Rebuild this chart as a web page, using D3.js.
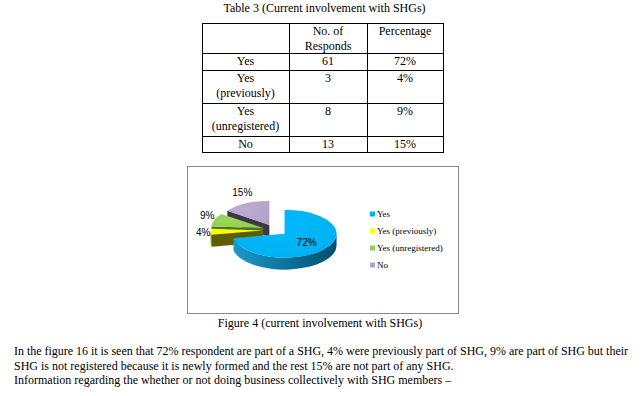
<!DOCTYPE html>
<html>
<head>
<meta charset="utf-8">
<script src="https://cdn.jsdelivr.net/npm/d3@7"></script>
<style>
  body { margin: 0; background: #fff; }
  svg { display: block; }
  .serif { font-family: "Liberation Serif", "Times New Roman", serif; fill: #000; }
  .sans { font-family: "Liberation Sans", Arial, sans-serif; fill: #000; }
</style>
</head>
<body>
<div id="chart"></div>
<script>
// table + chart data
const categories = ['Yes', 'Yes (previously)', 'Yes (unregistered)', 'No'];
const rowLabels = [['Yes'], ['Yes', '(previously)'], ['Yes', '(unregistered)'], ['No']];
const responds = [61, 3, 8, 13];
const percentages = [72, 4, 9, 15];
const headers = [[''], ['No. of', 'Responds'], ['Percentage']];
const topColors = ['#00b0f0', '#ffff00', '#92d050', '#b3a2c7'];
const sideColors = [['#1c9acb', '#004e70'], ['#7d7d00', '#5e5e00'], ['#5f8f2e', '#4a7322'], ['#55495f', '#3e3546']];

const tableCaption = 'Table 3 (Current involvement with SHGs)';
const figureCaption = 'Figure 4 (current involvement with SHGs)';
const paragraph = [
    'In the figure 16 it is seen that 72% respondent are part of a SHG, 4% were previously part of SHG, 9% are part of SHG but their',
    'SHG is not registered because it is newly formed and the rest 15% are not part of any SHG.',
    'Information regarding the whether or not doing business collectively with SHG members \u2013'
];

const W = 642, H = 396;
const svg = d3.select('#chart').append('svg')
    .attr('width', W)
    .attr('height', H);

svg.append('rect').attr('width', W).attr('height', H).attr('fill', '#fff');

/* ---------- table ---------- */
const colEdges = [202, 289, 367, 443];
// header is two lines, rows are one or two lines
const lineH = 16.5;
const rowHeights = [30].concat(rowLabels.map(r => r.length * lineH));
const rowEdges = [23];
rowHeights.forEach(h => rowEdges.push(rowEdges[rowEdges.length - 1] + h));

svg.append('text')
    .attr('class', 'serif')
    .attr('x', (colEdges[0] + colEdges[3]) / 2 + 2)
    .attr('y', 12)
    .attr('text-anchor', 'middle')
    .style('font-size', '12px')
    .text(tableCaption);

const grid = svg.append('g').attr('stroke', '#000').attr('stroke-width', 1);
rowEdges.forEach(y => {
    grid.append('line')
        .attr('x1', colEdges[0]).attr('x2', colEdges[3])
        .attr('y1', Math.round(y) + 0.5).attr('y2', Math.round(y) + 0.5);
});
colEdges.forEach(x => {
    grid.append('line')
        .attr('x1', x + 0.5).attr('x2', x + 0.5)
        .attr('y1', rowEdges[0]).attr('y2', Math.round(rowEdges[rowEdges.length - 1]) + 1);
});

const colCenter = i => (colEdges[i] + colEdges[i + 1]) / 2;

function cellText(lines, col, rowTop) {
    lines.forEach((t, j) => {
        svg.append('text')
            .attr('class', 'serif')
            .attr('x', colCenter(col))
            .attr('y', rowTop + 11.5 + j * 15)
            .attr('text-anchor', 'middle')
            .style('font-size', '12px')
            .text(t);
    });
}

headers.forEach((h, c) => cellText(h, c, rowEdges[0]));
rowLabels.forEach((r, i) => {
    const top = Math.round(rowEdges[i + 1]);
    cellText(r, 0, top);
    cellText([String(responds[i])], 1, top);
    cellText([percentages[i] + '%'], 2, top);
});

/* ---------- chart frame ---------- */
const frame = { x: 187, y: 166, w: 271, h: 147 };
svg.append('rect')
    .attr('x', frame.x + 0.5).attr('y', frame.y + 0.5)
    .attr('width', frame.w).attr('height', frame.h)
    .attr('fill', '#fff')
    .attr('stroke', '#8a8a8a');

/* ---------- 3D pie ---------- */
const cx = 275, cy = 230, rx = 52, ry = 24, depth = 12, explode = 12.4;
const k = ry / rx;

const pie = d3.pie().sort(null).startAngle(0).endAngle(2 * Math.PI);
const arcs = pie(percentages).map((d, i) => {
    const mid = (d.startAngle + d.endAngle) / 2;
    return {
        i: i,
        a0: d.startAngle,
        a1: d.endAngle,
        mid: mid,
        value: d.value,
        ox: cx + explode * Math.sin(mid),
        oy: cy - explode * k * Math.cos(mid)
    };
});

const pt = (s, a, dy = 0) => [s.ox + rx * Math.sin(a), s.oy - ry * Math.cos(a) + dy];

const defs = svg.append('defs');
arcs.forEach(s => {
    const g = defs.append('linearGradient')
        .attr('id', 'side' + s.i)
        .attr('gradientUnits', 'userSpaceOnUse')
        .attr('x1', s.ox - rx).attr('x2', s.ox + rx)
        .attr('y1', 0).attr('y2', 0);
    g.append('stop').attr('offset', '0%').attr('stop-color', sideColors[s.i][0]);
    g.append('stop').attr('offset', '100%').attr('stop-color', sideColors[s.i][1]);
    const t = defs.append('radialGradient')
        .attr('id', 'top' + s.i)
        .attr('cx', '40%').attr('cy', '35%').attr('r', '75%');
    t.append('stop').attr('offset', '0%').attr('stop-color', d3.color(topColors[s.i]).brighter(0.15));
    t.append('stop').attr('offset', '100%').attr('stop-color', topColors[s.i]);
});

// back slices first
const order = arcs.slice().sort((a, b) => a.oy - b.oy);
const pieG = svg.append('g');

order.forEach(s => {
    const g = pieG.append('g');
    const c = [s.ox, s.oy];
    // radial walls facing the viewer
    [[s.a0, Math.sin(s.a0) < -1e-6], [s.a1, Math.sin(s.a1) > 1e-6]].forEach(([a, vis]) => {
        if (!vis) return;
        const p = pt(s, a), pd = pt(s, a, depth);
        g.append('path')
            .attr('d', `M${c[0]},${c[1]}L${p[0]},${p[1]}L${pd[0]},${pd[1]}L${c[0]},${c[1] + depth}Z`)
            .attr('fill', sideColors[s.i][1]);
    });
    // outer wall on the front half
    const f0 = Math.max(s.a0, Math.PI / 2), f1 = Math.min(s.a1, 3 * Math.PI / 2);
    if (f1 > f0) {
        const p0 = pt(s, f0), p1 = pt(s, f1), q1 = pt(s, f1, depth), q0 = pt(s, f0, depth);
        const large = (f1 - f0) > Math.PI ? 1 : 0;
        g.append('path')
            .attr('d', `M${p0[0]},${p0[1]}A${rx},${ry} 0 ${large} 1 ${p1[0]},${p1[1]}` +
                `L${q1[0]},${q1[1]}A${rx},${ry} 0 ${large} 0 ${q0[0]},${q0[1]}Z`)
            .attr('fill', `url(#side${s.i})`);
    }
    // top face
    const p0 = pt(s, s.a0), p1 = pt(s, s.a1);
    const large = (s.a1 - s.a0) > Math.PI ? 1 : 0;
    g.append('path')
        .attr('d', `M${c[0]},${c[1]}L${p0[0]},${p0[1]}A${rx},${ry} 0 ${large} 1 ${p1[0]},${p1[1]}Z`)
        .attr('fill', `url(#top${s.i})`);
});

// data labels
arcs.forEach(s => {
    let x, y;
    if (s.value >= 50) {
        x = s.ox + 0.55 * rx * Math.sin(s.mid);
        y = s.oy - 0.55 * ry * Math.cos(s.mid);
    } else {
        x = cx + 72 * Math.sin(s.mid);
        y = cy - 1.75 * ry * Math.cos(s.mid);
    }
    svg.append('text')
        .attr('class', 'sans')
        .attr('x', x)
        .attr('y', y)
        .attr('dy', '0.35em')
        .attr('text-anchor', 'middle')
        .style('font-size', '10px')
        .text(s.value + '%');
});

/* ---------- legend ---------- */
const legendY = d3.scalePoint().domain(categories).range([214, 265]);
const legend = svg.append('g');
categories.forEach((c, i) => {
    legend.append('rect')
        .attr('x', 370)
        .attr('y', legendY(c) - 2.5)
        .attr('width', 5)
        .attr('height', 5)
        .attr('fill', topColors[i]);
    legend.append('text')
        .attr('class', 'serif')
        .attr('x', 377)
        .attr('y', legendY(c))
        .attr('dy', '0.33em')
        .style('font-size', '9px')
        .text(c);
});

/* ---------- caption + paragraph ---------- */
svg.append('text')
    .attr('class', 'serif')
    .attr('x', 320)
    .attr('y', 327)
    .attr('text-anchor', 'middle')
    .style('font-size', '12px')
    .text(figureCaption);

paragraph.forEach((t, i) => {
    const el = svg.append('text')
        .attr('class', 'serif')
        .attr('x', 14)
        .attr('y', 355 + i * 14.5)
        .style('font-size', '12px')
        .text(t);
    if (i === 0) el.attr('textLength', 614).attr('lengthAdjust', 'spacing');
});
</script>
</body>
</html>
